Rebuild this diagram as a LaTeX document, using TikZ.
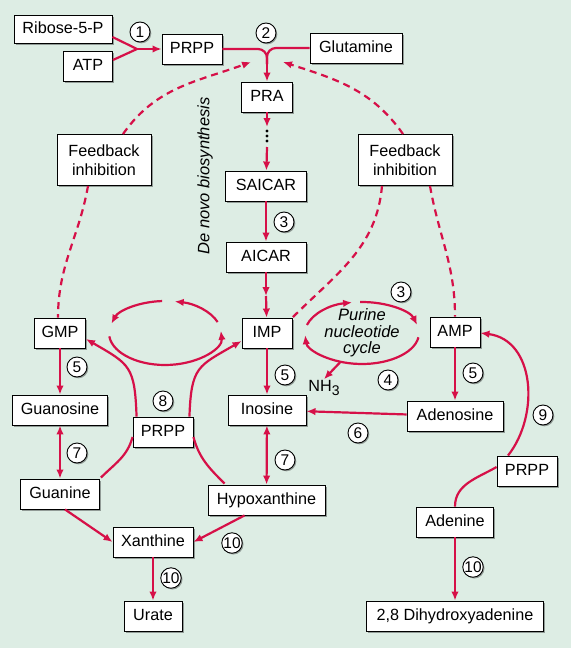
\documentclass[tikz,border=0pt]{standalone}
\usepackage{fontspec}
\setmainfont{Liberation Sans}
\usetikzlibrary{arrows.meta,calc,positioning,shadows}
\definecolor{PathRed}{RGB}{214,16,72}
\definecolor{PaleMint}{RGB}{221,237,228}
\definecolor{ShadeGray}{RGB}{120,128,124}

\tikzset{
  metab/.style={draw,line width=0.9pt,fill=white,minimum height=30pt,
    inner xsep=5pt,text height=11.5pt,text depth=3pt,
    font=\fontsize{16.2}{18}\selectfont,
    drop shadow={shadow xshift=1.8pt,shadow yshift=-1.8pt,fill=ShadeGray,opacity=0.75}},
  fbbox/.style={draw,line width=0.9pt,fill=white,minimum width=94pt,minimum height=51pt,
    align=center,font=\fontsize{16.2}{18.5}\selectfont,
    drop shadow={shadow xshift=1.8pt,shadow yshift=-1.8pt,fill=ShadeGray,opacity=0.75}},
  stepno/.style={circle,draw,line width=0.9pt,fill=white,inner sep=0pt,minimum size=20pt,
    font=\fontsize{15.5}{15.5}\selectfont,
    drop shadow={shadow xshift=1.3pt,shadow yshift=-1.3pt,fill=ShadeGray,opacity=0.75}},
  link/.style={line width=2.2pt,PathRed},
  flow/.style={->,line width=2.2pt,PathRed},
  fback/.style={line width=2.2pt,PathRed,dash pattern=on 7pt off 5pt},
}

\begin{document}
\begin{tikzpicture}[x=1pt,y=1pt,>={Latex[length=9pt,width=7.5pt]}]
  \fill[PaleMint] (0,0) rectangle (571,-648);
  \useasboundingbox (0,0) rectangle (571,-648);

  % top of the pathway
  \node[metab,minimum width=98pt,minimum height=28pt] (rib) at (63,-29) {Ribose-5-P};
  \node[metab,minimum width=49pt] (atp) at (88,-66) {ATP};
  \node[metab,minimum width=60pt] (prpp1) at (192,-49) {PRPP};
  \node[metab,minimum width=92pt] (glut) at (356,-48) {Glutamine};
  \node[metab,minimum width=51pt] (pra) at (267,-97) {PRA};
  \node[metab,minimum width=81pt] (saicar) at (266,-186) {SAICAR};
  \node[metab,minimum width=80pt] (aicar) at (266,-257) {AICAR};
  \node[rotate=90,font=\fontsize{16.5}{18}\selectfont\itshape] (denovo) at (205,-176) {De novo biosynthesis};

  \node[fbbox] (fbl) at (104,-160) {Feedback\\inhibition};
  \node[fbbox] (fbr) at (405,-160) {Feedback\\inhibition};

  % nucleotides, nucleosides, bases
  \node[metab,minimum width=51pt] (gmp) at (60,-333) {GMP};
  \node[metab,minimum width=50pt] (imp) at (267,-333) {IMP};
  \node[metab,minimum width=50pt] (amp) at (455,-332) {AMP};
  \node[metab,minimum width=95pt] (guano) at (60,-410) {Guanosine};
  \node[metab,minimum width=78pt] (ino) at (267,-410) {Inosine};
  \node[metab,minimum width=96pt] (adeno) at (455,-416) {Adenosine};
  \node[metab,minimum width=60pt] (prpp2) at (163,-432) {PRPP};
  \node[metab,minimum width=79pt] (guanine) at (60,-494) {Guanine};
  \node[metab,minimum width=117pt] (hypo) at (266.5,-500) {Hypoxanthine};
  \node[metab,minimum width=80pt] (xan) at (153,-542) {Xanthine};
  \node[metab,minimum width=58pt] (urate) at (153,-616) {Urate};
  \node[metab,minimum width=60pt] (prpp3) at (527,-471) {PRPP};
  \node[metab,minimum width=77pt] (adenine) at (455,-522) {Adenine};
  \node[metab,minimum width=177pt] (dha) at (455,-616) {2,8 Dihydroxyadenine};

  \node[align=center,font=\fontsize{16.5}{16.5}\selectfont\itshape] (pnc) at (362,-333) {Purine\\nucleotide\\cycle};
  \node[font=\fontsize{16.2}{18}\selectfont,inner sep=1pt] (nh3) at (324,-388) {NH\raisebox{-4pt}{\fontsize{14}{14}\selectfont 3}};

  % PRPP synthesis and first step
  \coordinate (j1) at (137,-49);
  \draw[link] ([yshift=-8pt]rib.east) -- (j1);
  \draw[link] ([yshift=6pt]atp.east) -- (j1);
  \draw[flow] (j1) -- (prpp1.west);
  \coordinate (j2) at (267,-64);
  \draw[link,rounded corners=9pt] (prpp1.east) -| (j2);
  \draw[link,rounded corners=9pt] (glut.west) -| (j2);
  \draw[flow] (j2) -- (pra.north);

  % de novo chain
  \coordinate (d1) at (267,-127);
  \coordinate (d2) at (267,-147);
  \draw[flow] (pra) -- (d1);
  \foreach \dy in {131,136,141}
    \fill (267,-\dy) circle (1.6);
  \draw[flow] (d2) -- (saicar);
  \draw[flow] (saicar) -- (aicar);
  \coordinate (m1) at (266,-296);
  \draw[flow] (aicar) -- (m1);
  \draw[flow] (m1) -- (imp);

  % feedback
  \coordinate (fbtipl) at (251,-62);
  \coordinate (fbtipr) at (283,-62);
  \draw[fback,->] ([xshift=19pt]fbl.north) to[out=55,in=200] (fbtipl);
  \draw[fback,->] ([xshift=-2pt]fbr.north) to[out=125,in=-18] (fbtipr);
  \draw[fback] ([xshift=-16pt]fbl.south) to[out=-100,in=90] ([xshift=-2pt]gmp.north);
  \draw[fback] ([xshift=-23pt]fbr.south) to[out=-95,in=45] (imp.north east);
  \draw[fback] ([xshift=25pt]fbr.south) to[out=-80,in=90] (amp.north);

  % GMP / IMP interconversion
  \coordinate (cyc) at (165,-333);
  \draw[flow] (cyc) ++(20:56 and 32) arc[start angle=20,end angle=80,x radius=56,y radius=32];
  \draw[flow] (cyc) ++(93:56 and 32) arc[start angle=93,end angle=163,x radius=56,y radius=32];
  \draw[flow] (cyc) ++(186:56 and 32) arc[start angle=186,end angle=364,x radius=56,y radius=32];

  % purine nucleotide cycle
  \draw[flow] (pnc.center) ++(165:57 and 31) arc[start angle=165,end angle=100,x radius=57,y radius=31];
  \draw[flow] (pnc.center) ++(92:57 and 31) arc[start angle=92,end angle=15,x radius=57,y radius=31];
  \draw[flow] (pnc.center) ++(-8:57 and 31) arc[start angle=-8,end angle=-176,x radius=57,y radius=31];
  \coordinate (nhs) at ($(pnc.center)+(248:57 and 31)$);
  \draw[flow] (nhs) -- (nh3.north);

  % degradation
  \draw[flow] (imp) -- (ino);
  \draw[flow] (gmp) -- (guano);
  \draw[flow] (amp) -- (adeno);
  \draw[flow] (adeno) -- (ino);
  \draw[flow,<->] (guano) -- (guanine);
  \draw[flow,<->] (ino) -- (hypo);
  \draw[flow] ([xshift=5pt]guanine.south) -- (xan.west);
  \draw[flow] ([xshift=-22pt]hypo.south) -- (xan.east);
  \draw[flow] (xan) -- (urate);
  \draw[flow] (adenine) -- (dha);

  % salvage through PRPP
  \draw[link] ([xshift=1pt,yshift=1pt]guanine.north east) to[out=45,in=-105] ([yshift=-5pt]prpp2.west);
  \draw[flow,looseness=1.4] ([xshift=4pt]prpp2.north west) to[out=92,in=-30] ([yshift=-6pt]gmp.east);
  \draw[link] ([xshift=17pt,yshift=1pt]hypo.north west) to[out=135,in=-75] ([yshift=-5pt]prpp2.east);
  \draw[flow,looseness=1.4] ([xshift=-4pt]prpp2.north east) to[out=88,in=-150] ([yshift=-8pt]imp.west);
  \draw[link] (adenine.north) to[out=90,in=210] ([yshift=4pt]prpp3.west);
  \draw[flow] ([xshift=-19pt]prpp3.north) .. controls (540,-415) and (535,-340) .. ([yshift=-1pt]amp.east);

  % enzyme numbers
  \node[stepno] (s1) at (140,-32) {1};
  \node[stepno] (s2) at (266,-33) {2};
  \node[stepno] (s3a) at (284,-222) {3};
  \node[stepno] (s3b) at (401,-292) {3};
  \node[stepno] (s4) at (388,-380) {4};
  \node[stepno] (s5a) at (77,-367) {5};
  \node[stepno] (s5b) at (285,-375) {5};
  \node[stepno] (s5c) at (473,-373) {5};
  \node[stepno] (s6) at (358,-433) {6};
  \node[stepno] (s7a) at (77,-453) {7};
  \node[stepno] (s7b) at (285,-460) {7};
  \node[stepno] (s8) at (163,-401) {8};
  \node[stepno] (s9) at (543,-415) {9};
  \node[stepno] (s10a) at (232,-543) {10};
  \node[stepno] (s10b) at (171,-578) {10};
  \node[stepno] (s10c) at (473,-567) {10};
\end{tikzpicture}
\end{document}
